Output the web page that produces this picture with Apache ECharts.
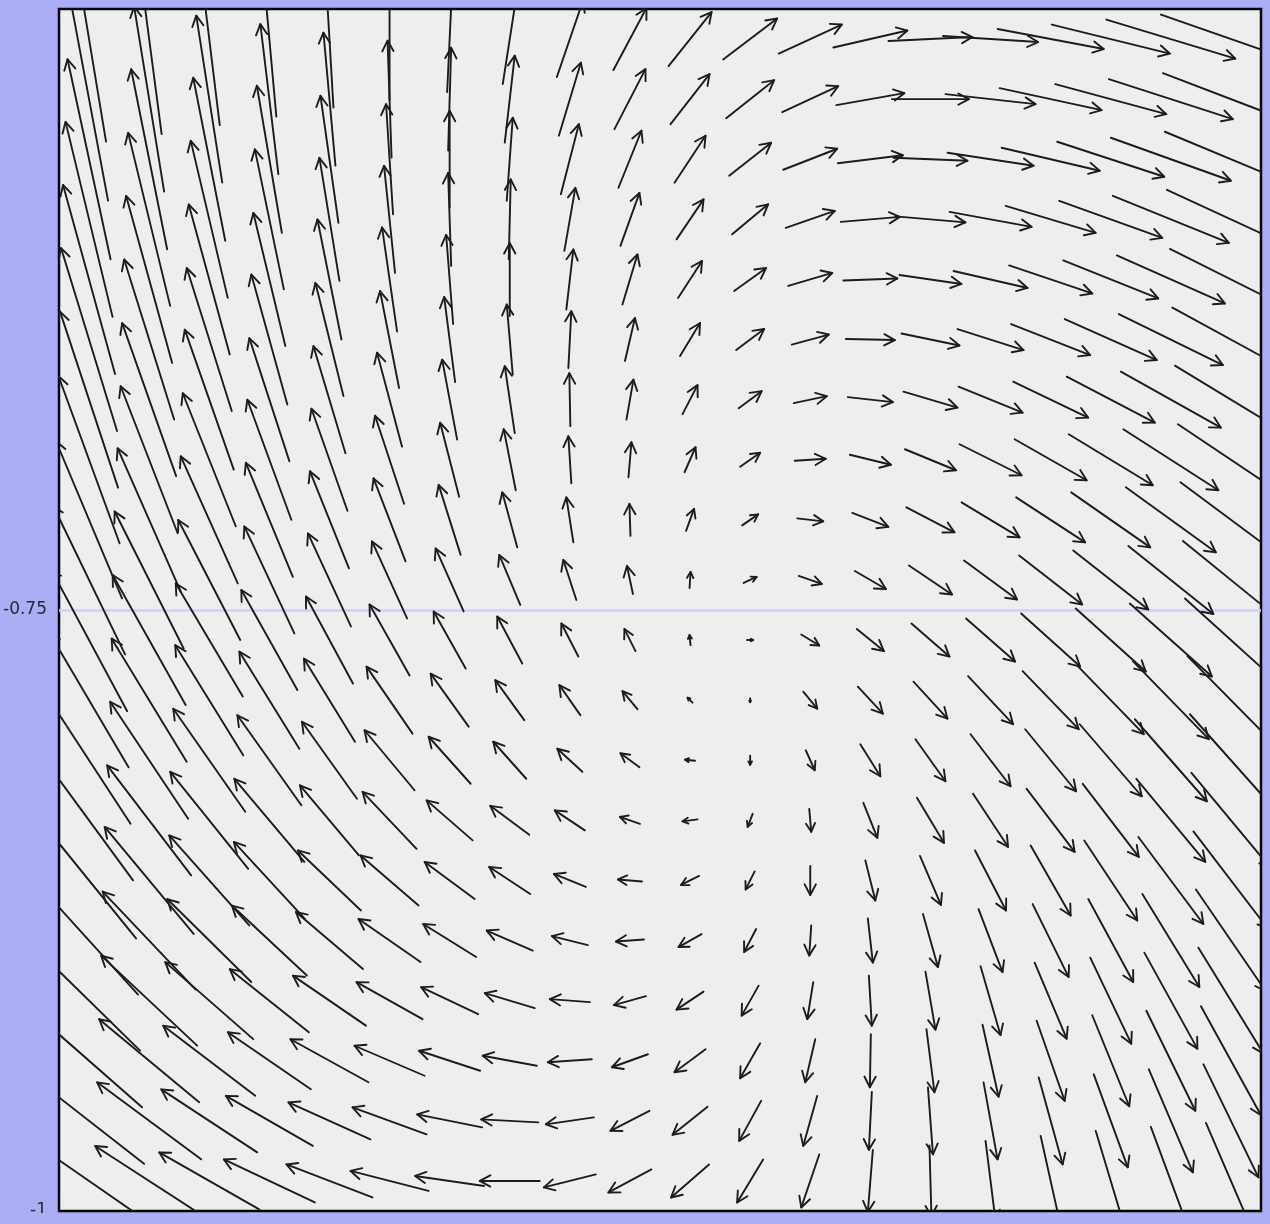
<!DOCTYPE html>
<html>
<head>
<meta charset="utf-8">
<script src="https://cdn.jsdelivr.net/npm/echarts@6/dist/echarts.min.js"></script>
<style>
html,body{margin:0;padding:0;background:#abaef5;overflow:hidden}
#c{width:1270px;height:1213px}
</style>
</head>
<body>
<div id="c"></div>
<script>
// grid-point centres (data units)
const xCenters = [0.0125,0.0375,0.0625,0.0875,0.1125,0.1375,0.1625,0.1875,0.2125,0.2375,0.2625,0.2875,0.3125,0.3375,0.3625,0.3875,0.4125,0.4375,0.4625,0.4875];
const yCenters = [-0.5125,-0.5375,-0.5625,-0.5875,-0.6125,-0.6375,-0.6625,-0.6875,-0.7125,-0.7375,-0.7625,-0.7875,-0.8125,-0.8375,-0.8625,-0.8875,-0.9125,-0.9375,-0.9625,-0.9875];
const yTickLabels = ['-1', '-0.75'];

// vector x-components (east), one row per y-centre, top row first
const U = [
[-34,-25,-21,-14,-8,0,5,14,26,33,43,54,63,74,84,95,106,118,129,140],
[-38,-30,-26,-18,-12,-4,3,10,22,31,39,48,56,68,77,90,102,111,124,136],
[-43,-36,-32,-25,-18,-7,0,6,18,23,31,42,54,65,74,86,98,107,120,132],
[-47,-42,-37,-29,-20,-11,-3,2,11,19,27,36,49,59,70,82,90,103,116,128],
[-52,-46,-41,-32,-24,-15,-7,0,7,15,24,32,44,54,62,74,83,95,108,122],
[-56,-50,-45,-36,-28,-19,-11,-6,3,10,20,28,37,49,58,66,79,92,104,117],
[-58,-54,-49,-40,-32,-25,-15,-10,-1,7,15,23,33,45,54,64,75,88,100,112],
[-61,-57,-53,-44,-36,-29,-19,-12,-3,3,11,20,31,41,51,62,72,84,95,106],
[-66,-63,-57,-47,-39,-32,-22,-15,-7,-1,8,16,26,36,48,58,69,79,90,101],
[-72,-69,-62,-50,-43,-35,-28,-21,-13,-6,1,13,23,31,43,53,63,75,85,96],
[-76,-73,-67,-56,-47,-40,-32,-25,-17,-11,-1,6,18,27,38,49,59,70,82,92],
[-79,-75,-68,-60,-51,-46,-38,-29,-21,-15,-5,0,14,25,34,45,56,66,76,87],
[-83,-78,-72,-64,-55,-50,-42,-33,-25,-19,-10,0,9,20,30,40,51,62,72,82],
[-88,-84,-78,-70,-59,-54,-46,-39,-30,-20,-15,-5,2,14,27,35,48,56,69,79],
[-94,-89,-80,-71,-63,-58,-50,-41,-32,-24,-18,-9,0,10,21,31,40,53,65,75],
[-98,-93,-84,-75,-67,-62,-53,-46,-36,-28,-23,-12,-2,5,15,24,36,45,57,70],
[-102,-96,-88,-79,-73,-66,-57,-50,-40,-32,-27,-17,-6,3,10,20,32,41,53,65],
[-106,-100,-92,-83,-78,-70,-61,-54,-44,-36,-31,-20,-10,-1,8,16,28,37,49,60],
[-110,-104,-96,-87,-82,-74,-65,-57,-48,-39,-35,-22,-14,-3,5,14,24,34,44,55],
[-114,-108,-100,-91,-86,-78,-69,-60,-52,-43,-38,-26,-18,-5,2,10,20,30,40,50]
];

// vector y-components (north), same layout
const V = [
[205,190,172,155,137,122,106,90,76,62,54,41,29,17,4,-6,-20,-29,-39,-49],
[203,185,167,150,133,117,103,87,73,60,50,38,26,12,0,-10,-22,-30,-40,-52],
[200,180,163,147,127,110,97,83,70,57,47,33,21,8,-3,-13,-23,-35,-43,-55],
[195,173,157,140,123,107,93,80,63,53,40,30,17,5,-6,-15,-27,-37,-47,-59],
[189,167,150,133,120,104,89,73,60,50,37,23,13,2,-9,-17,-28,-38,-48,-61],
[183,160,143,130,113,97,85,70,57,43,33,21,10,-1,-12,-21,-31,-41,-51,-64],
[176,153,140,123,107,94,80,67,53,40,29,17,7,-5,-16,-26,-36,-46,-56,-68],
[167,147,133,120,102,88,74,61,47,35,25,14,2,-10,-21,-31,-41,-51,-61,-71],
[157,143,127,114,97,83,70,55,45,32,22,11,-3,-14,-25,-35,-45,-55,-65,-75],
[149,137,120,107,93,77,63,50,40,28,16,6,-8,-18,-29,-39,-49,-59,-68,-78],
[142,130,113,100,87,71,57,47,33,22,10,0,-11,-22,-33,-43,-53,-63,-73,-83],
[134,123,110,97,83,67,53,40,30,18,5,-4,-17,-27,-37,-48,-58,-68,-78,-88],
[127,117,103,90,77,60,47,37,23,14,1,-9,-20,-32,-42,-52,-62,-72,-82,-92],
[120,110,97,83,70,57,40,29,20,7,-2,-13,-23,-35,-45,-53,-63,-73,-83,-95],
[116,107,90,77,60,50,37,27,13,2,-9,-18,-29,-40,-49,-60,-70,-80,-87,-98],
[108,98,83,70,57,43,33,20,9,-2,-13,-23,-30,-44,-53,-63,-73,-83,-93,-102],
[100,90,77,63,50,37,27,15,3,-9,-18,-30,-37,-50,-58,-69,-76,-86,-96,-106],
[93,83,70,57,43,30,20,10,-3,-13,-23,-35,-43,-53,-63,-72,-80,-91,-100,-109],
[86,77,63,50,37,27,13,3,-7,-20,-28,-40,-50,-58,-67,-77,-87,-93,-103,-113],
[79,70,57,43,33,20,10,0,-13,-23,-33,-43,-53,-62,-71,-80,-90,-100,-108,-116]
];

// one vector unit expressed in data units
const UNIT = 0.5 / 1202;

const data = [];
for (let j = 0; j < yCenters.length; j++) {
  for (let i = 0; i < xCenters.length; i++) {
    data.push([xCenters[i], yCenters[j], U[j][i], V[j][i]]);
  }
}

const INK = '#1c1c1c';
function renderItem(params, api) {
  const x = api.value(0), y = api.value(1), u = api.value(2), v = api.value(3);
  const hx = u * UNIT / 2, hy = v * UNIT / 2;
  const a = api.coord([x - hx, y - hy]);
  const b = api.coord([x + hx, y + hy]);
  const dx = b[0] - a[0], dy = b[1] - a[1];
  const len = Math.sqrt(dx * dx + dy * dy);
  if (len < 1) {
    return {type: 'circle', shape: {cx: b[0], cy: b[1], r: 1.5}, style: {fill: INK}};
  }
  const ang = Math.atan2(dy, dx);
  const h = Math.min(12, len * 0.42);
  const t = 28 * Math.PI / 180;
  const w1 = [b[0] - h * Math.cos(ang - t), b[1] - h * Math.sin(ang - t)];
  const w2 = [b[0] - h * Math.cos(ang + t), b[1] - h * Math.sin(ang + t)];
  return {
    type: 'group',
    children: [
      {type: 'line', shape: {x1: a[0], y1: a[1], x2: b[0], y2: b[1]},
       style: {stroke: INK, lineWidth: 1.9, lineCap: 'round'}},
      {type: 'polyline', shape: {points: [w1, b, w2]},
       style: {stroke: INK, lineWidth: 1.9, fill: null, lineJoin: 'round', lineCap: 'round'}}
    ]
  };
}

const chart = echarts.init(document.getElementById('c'));
chart.setOption({
  backgroundColor: '#abaef5',
  animation: false,
  grid: {
    left: 59, top: 9, right: 9, bottom: 2,
    outerBoundsMode: 'none', containLabel: false,
    show: true, backgroundColor: '#eeeeee', borderColor: '#000', borderWidth: 2.5
  },
  xAxis: {
    type: 'value', min: 0, max: 0.5,
    axisLine: {show: false}, axisTick: {show: false},
    axisLabel: {show: false}, splitLine: {show: false}
  },
  yAxis: {
    type: 'value', min: -1, max: -0.5, interval: 0.25,
    axisLine: {show: false}, axisTick: {show: false},
    axisLabel: {
      showMaxLabel: false, margin: 12, fontSize: 17,
      fontFamily: 'DejaVu Sans', color: '#2a2a2a',
      formatter: function (val) {
        const s = String(val);
        return yTickLabels.indexOf(s) >= 0 ? s : '';
      }
    },
    splitLine: {show: true, showMinLine: false, showMaxLine: false,
      lineStyle: {color: '#cdd0f8', width: 2.5}}
  },
  series: [{
    type: 'custom',
    renderItem: renderItem,
    data: data,
    clip: true,
    silent: true,
    encode: {x: 0, y: 1}
  }]
});
</script>
</body>
</html>
